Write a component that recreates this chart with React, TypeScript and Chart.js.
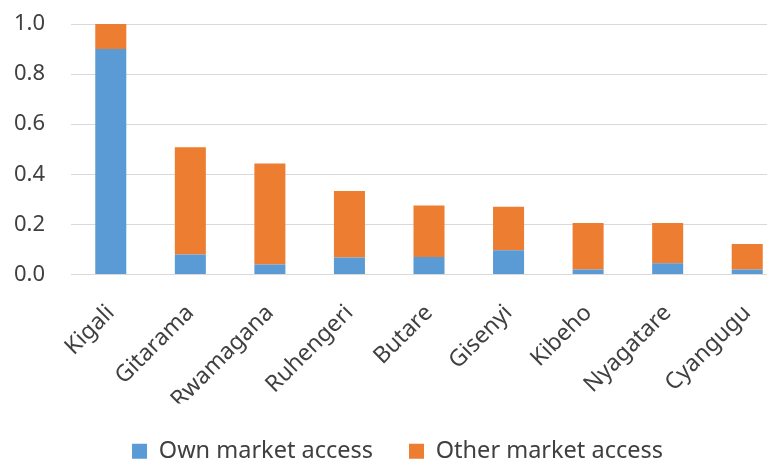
import React, { useEffect, useRef } from 'react';
import { Chart, registerables } from 'chart.js';

Chart.register(...registerables);

const categories = ['Kigali', 'Gitarama', 'Rwamagana', 'Ruhengeri', 'Butare', 'Gisenyi', 'Kibeho', 'Nyagatare', 'Cyangugu'];
const ownMarketAccess = [0.9, 0.08, 0.04, 0.068, 0.07, 0.097, 0.02, 0.045, 0.02];
const otherMarketAccess = [0.1, 0.428, 0.403, 0.265, 0.205, 0.173, 0.186, 0.161, 0.102];
const yTickValues = [0, 0.2, 0.4, 0.6, 0.8, 1.0];

const FAMILY = '"Noto Sans", "Open Sans", sans-serif';
const TEXT = '#404040';
const CANVAS_W = 800;
const CANVAS_H = 465;
const PLOT_BOTTOM = 266.5;

export default function App() {
  const ref = useRef<HTMLCanvasElement>(null);
  useEffect(() => {
    const chart = new Chart(ref.current as HTMLCanvasElement, {
      type: 'bar',
      data: {
        labels: categories,
        datasets: [
          { label: 'Own market access', data: ownMarketAccess, backgroundColor: '#5b9bd5', barPercentage: 0.39, categoryPercentage: 1 },
          { label: 'Other market access', data: otherMarketAccess, backgroundColor: '#ed7d31', barPercentage: 0.39, categoryPercentage: 1 },
        ],
      },
      options: {
        responsive: false,
        animation: false,
        devicePixelRatio: 1,
        layout: { padding: { top: 16, right: 21, left: 0, bottom: 0 } },
        plugins: {
          legend: {
            position: 'bottom',
            labels: { boxWidth: 15, boxHeight: 15, padding: 36, color: TEXT, font: { family: FAMILY, size: 23.5 } },
          },
          tooltip: { enabled: false },
        },
        scales: {
          x: {
            stacked: true,
            grid: { display: false },
            border: { display: false },
            ticks: { minRotation: 45, maxRotation: 45, color: TEXT, font: { family: FAMILY, size: 23 }, padding: 17 },
            afterFit: (s: any) => {
              const lh = s.chart.legend ? s.chart.legend.height : 70;
              s.height = CANVAS_H - lh - PLOT_BOTTOM;
            },
          },
          y: {
            stacked: true,
            min: 0,
            max: 1,
            afterBuildTicks: (s: any) => { s.ticks = yTickValues.map((v) => ({ value: v })); },
            ticks: { callback: (v: any) => Number(v).toFixed(1), padding: 26, color: TEXT, font: { family: FAMILY, size: 22 } },
            grid: { color: '#d9d9d9', lineWidth: 1, drawTicks: false },
            border: { display: false },
            afterFit: (s: any) => { s.width = 63; s.paddingTop = 13; s.paddingBottom = 13; },
          },
        },
      },
    });
    return () => chart.destroy();
  }, []);
  return (
    <div style={{ width: 767, height: 451, overflow: 'hidden' }}>
      <canvas ref={ref} width={CANVAS_W} height={CANVAS_H} style={{ display: 'block' }} />
    </div>
  );
}
